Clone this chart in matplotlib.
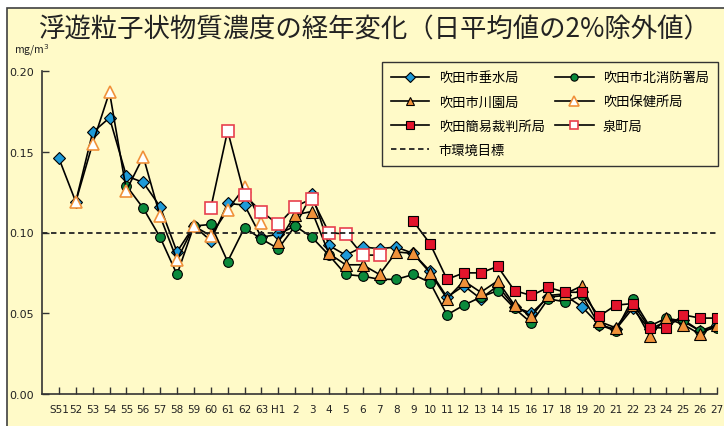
import numpy as np
import matplotlib
matplotlib.use("Agg")
import matplotlib.pyplot as plt
from matplotlib.patches import Rectangle

plt.rcParams['font.family'] = ['Noto Sans CJK JP', 'DejaVu Sans']

nan = np.nan

# 年度ラベル（昭和51年度〜平成27年度）
years = ["S51", "52", "53", "54", "55", "56", "57", "58", "59", "60", "61", "62", "63",
         "H1", "2", "3", "4", "5", "6", "7", "8", "9", "10", "11", "12", "13", "14",
         "15", "16", "17", "18", "19", "20", "21", "22", "23", "24", "25", "26", "27"]

# 各測定局の値 (mg/m3)
tarumi = [0.146, 0.119, 0.162, 0.171, 0.135, 0.131, 0.116, 0.088, 0.104, 0.095,
          0.118, 0.117, 0.097, 0.099, 0.104, 0.124, 0.092, 0.086, 0.091, 0.090,
          0.091, 0.087, 0.076, 0.060, 0.067, 0.059, 0.067, 0.054, 0.050, 0.060,
          0.061, 0.054, 0.043, 0.040, 0.053, 0.040, 0.045, 0.046, 0.039, 0.043]
kitashobo = [nan, nan, nan, nan, 0.129, 0.115, 0.097, 0.074, 0.104, 0.105,
             0.082, 0.103, 0.096, 0.090, 0.104, 0.097, 0.086, 0.074, 0.073, 0.071,
             0.071, 0.074, 0.069, 0.049, 0.055, 0.060, 0.064, 0.053, 0.044, 0.059,
             0.057, 0.061, 0.043, 0.039, 0.059, 0.042, 0.047, 0.045, 0.039, 0.041]
kawazono = [nan] * 13 + [0.094, 0.111, 0.113, 0.087, 0.080, 0.080, 0.074, 0.088, 0.087,
                         0.075, 0.059, 0.070, 0.063, 0.070, 0.055, 0.048, 0.061, 0.062,
                         0.067, 0.045, 0.041, 0.055, 0.036, 0.047, 0.043, 0.037, 0.043]
hokenjo = [nan, 0.119, 0.155, 0.187, 0.126, 0.147, 0.110, 0.083, 0.104, 0.098,
           0.114, 0.128, 0.106] + [nan] * 27
saibansho = [nan] * 21 + [0.107, 0.093, 0.071, 0.075, 0.075, 0.079, 0.064, 0.061, 0.066,
                          0.063, 0.063, 0.048, 0.055, 0.056, 0.041, 0.041, 0.049, 0.047, 0.047]
izumicho = [nan] * 9 + [0.115, 0.163, 0.123, 0.113, 0.105, 0.116, 0.121, 0.100, 0.099,
                        0.086, 0.086] + [nan] * 20
target = 0.10

bg = "#fffac8"
x = np.arange(len(years))

fig = plt.figure(figsize=(7.24, 4.27), dpi=100, facecolor="white")
# 外枠
frame = Rectangle((7 / 724, -0.05), 1.1, 1 - 9 / 427 + 0.05, transform=fig.transFigure,
                  facecolor=bg, edgecolor="#404040", linewidth=1.2, zorder=-10)
fig.patches.append(frame)

ax = fig.add_axes([42 / 724, 32 / 427, 675 / 724, 323 / 427])
ax.set_facecolor("none")

lw = 1.2
h1, = ax.plot(x, tarumi, color="black", lw=lw, marker="D", ms=6.5, mfc="#1e9ad8", mec="black", mew=0.8, label="吹田市垂水局")
h2, = ax.plot(x, kitashobo, color="black", lw=lw, marker="o", ms=7, mfc="#0b8a3c", mec="black", mew=0.8, label="吹田市北消防署局")
h3, = ax.plot(x, kawazono, color="black", lw=lw, marker="^", ms=8, mfc="#f0913a", mec="black", mew=0.8, label="吹田市川園局")
h4, = ax.plot(x, hokenjo, color="black", lw=lw, marker="^", ms=9, mfc="white", mec="#f0913a", mew=1.2, label="吹田保健所局")
h5, = ax.plot(x, saibansho, color="black", lw=lw, marker="s", ms=7.5, mfc="#e3142c", mec="black", mew=0.8, label="吹田簡易裁判所局")
h6, = ax.plot(x, izumicho, color="black", lw=lw, marker="s", ms=8, mfc="white", mec="#e8404e", mew=1.2, label="泉町局")
h7 = ax.axhline(target, color="#222222", lw=1.3, ls=(0, (3, 2)), label="市環境目標")

ax.set_xlim(-1, 39)
ax.set_ylim(0, 0.20)
ax.set_xticks(x)
ax.set_xticklabels(years, family=["Liberation Sans Narrow", "DejaVu Sans"], fontsize=7.5, color="#222222")
ax.set_yticks([0, 0.05, 0.10, 0.15, 0.20])
ax.set_yticklabels(["0.00", "0.05", "0.10", "0.15", "0.20"], family=["Liberation Sans Narrow", "DejaVu Sans"], fontsize=8, color="#222222")
ax.tick_params(direction="in", length=5, width=1, color="#333333", pad=6)
ax.tick_params(axis="x", pad=7)
for s in ["top", "right"]:
    ax.spines[s].set_visible(False)
for s in ["left", "bottom"]:
    ax.spines[s].set_color("#333333")
    ax.spines[s].set_linewidth(1.2)

# 凡例（2列）
leg = ax.legend([h1, h3, h5, h7, h2, h4, h6],
                ["吹田市垂水局", "吹田市川園局", "吹田簡易裁判所局", "市環境目標",
                 "吹田市北消防署局", "吹田保健所局", "泉町局"],
                ncol=2, loc="upper right", bbox_to_anchor=(718 / 724, 1 - 63 / 427),
                bbox_transform=fig.transFigure, borderaxespad=0, fontsize=9.5,
                handlelength=2.9, labelspacing=0.85, columnspacing=0.8,
                handletextpad=0.7, borderpad=0.7, fancybox=False, facecolor=bg,
                edgecolor="#333333", framealpha=1, markerscale=0.75)
leg.get_frame().set_linewidth(1.0)

fig.text(374 / 724, 1 - 30 / 427, "浮遊粒子状物質濃度の経年変化（日平均値の2%除外値）",
         ha="center", va="center", fontsize=19, color="#222222")
fig.text(14 / 724, 1 - 50 / 427, "mg/m$^3$", ha="left", va="center", fontsize=7.5, color="#222222")

fig.savefig("out.png", dpi=100, facecolor="white")
